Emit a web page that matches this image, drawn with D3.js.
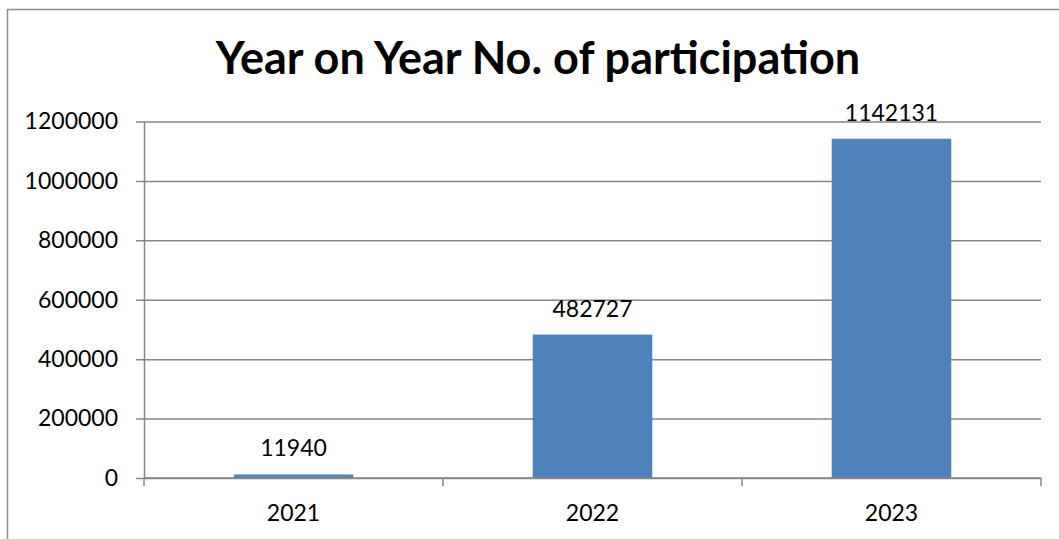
<!DOCTYPE html>
<html>
<head>
<meta charset="utf-8">
<script src="https://cdn.jsdelivr.net/npm/d3@7"></script>
<style>
  body { margin: 0; background: #fff; }
  svg { display: block; font-family: Lato, "Open Sans", sans-serif; }
</style>
</head>
<body>
<div id="chart"></div>
<script>
// participation per year
var years = ["2021", "2022", "2023"];
var participants = [11940, 482727, 1142131];
var yTicks = [0, 200000, 400000, 600000, 800000, 1000000, 1200000];

var width = 1059, height = 539;
var plotLeft = 144, plotRight = 1041, plotTop = 121.5, plotBottom = 478;

var svg = d3.select("#chart").append("svg")
  .attr("width", width)
  .attr("height", height);

// chart frame
svg.append("rect")
  .attr("x", 7.5).attr("y", 9.5)
  .attr("width", 1100).attr("height", 600)
  .attr("fill", "none")
  .attr("stroke", "#8c8c8c")
  .attr("stroke-width", 1.5);

var x = d3.scaleBand()
  .domain(years)
  .range([plotLeft, plotRight])
  .paddingInner(0.6)
  .paddingOuter(0.3);

var y = d3.scaleLinear()
  .domain([0, 1200000])
  .range([plotBottom, plotTop]);

// gridlines + y axis
var yAxis = d3.axisLeft(y)
  .tickValues(yTicks)
  .tickSize(-(plotRight - plotLeft))
  .tickSizeOuter(0)
  .tickPadding(26)
  .tickFormat(d3.format("d"));

var gy = svg.append("g")
  .attr("transform", "translate(" + plotLeft + ",0)")
  .call(yAxis);
gy.select(".domain").attr("stroke", "#868686").attr("stroke-width", 1.5);
gy.selectAll(".tick line")
  .attr("x1", -8)
  .attr("stroke", "#868686")
  .attr("stroke-width", 1.5);
gy.selectAll(".tick text")
  .attr("fill", "#000")
  .style("font-family", "Lato, sans-serif")
  .style("font-size", "23px");

// bars
svg.selectAll(".bar")
  .data(participants)
  .enter()
  .append("rect")
  .attr("class", "bar")
  .attr("x", function(d, i) { return x(years[i]); })
  .attr("y", function(d) { return y(d); })
  .attr("width", x.bandwidth())
  .attr("height", function(d) { return plotBottom - y(d); })
  .attr("fill", "#4f81bd");

// x axis, ticks sit between the categories
var step = x.step();
var boundaries = d3.range(years.length + 1).map(function(i) { return plotLeft + i * step; });

var gx = svg.append("g");
gx.append("line")
  .attr("x1", plotLeft).attr("x2", plotRight)
  .attr("y1", plotBottom).attr("y2", plotBottom)
  .attr("stroke", "#868686")
  .attr("stroke-width", 1.5);
gx.selectAll(".xtick")
  .data(boundaries)
  .enter()
  .append("line")
  .attr("x1", function(d) { return d; })
  .attr("x2", function(d) { return d; })
  .attr("y1", plotBottom)
  .attr("y2", plotBottom + 8)
  .attr("stroke", "#868686")
  .attr("stroke-width", 1.5);
gx.selectAll(".xlabel")
  .data(years)
  .enter()
  .append("text")
  .attr("x", function(d) { return x(d) + x.bandwidth() / 2; })
  .attr("y", 521)
  .attr("text-anchor", "middle")
  .style("font-size", "23px")
  .text(function(d) { return d; });

// value labels
svg.selectAll(".label")
  .data(participants)
  .enter()
  .append("text")
  .attr("x", function(d, i) { return x(years[i]) + x.bandwidth() / 2; })
  .attr("y", function(d) { return y(d) - 18; })
  .attr("text-anchor", "middle")
  .style("font-size", "23px")
  .text(function(d) { return d; });

// title
svg.append("text")
  .attr("x", 538)
  .attr("y", 74)
  .attr("text-anchor", "middle")
  .style("font-size", "45px")
  .style("font-weight", "bold")
  .text("Year on Year No. of participation");
</script>
</body>
</html>
